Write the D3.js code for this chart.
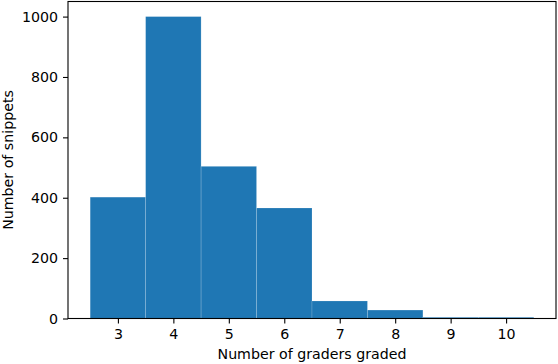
<!DOCTYPE html>
<html>
<head>
<meta charset="utf-8">
<script src="https://cdn.jsdelivr.net/npm/d3@7"></script>
<style>
	html, body { margin: 0; padding: 0; background: #fff; }
	svg { display: block; }
	text { font-family: "DejaVu Sans", sans-serif; fill: #000; }
</style>
</head>
<body>
<script>
// graders per snippet (bin centres) and snippet counts
const graders = [3, 4, 5, 6, 7, 8, 9, 10];
const counts = [402, 1000, 504, 366, 58, 28, 4, 4];
const xTicks = [3, 4, 5, 6, 7, 8, 9, 10];
const yTicks = [0, 200, 400, 600, 800, 1000];

const width = 558, height = 364;
const margin = { left: 68, right: 2, top: 1.5, bottom: 45.5 };

const svg = d3.select('body')
	.append('svg')
	.attr('width', width)
	.attr('height', height);

const x = d3.scaleLinear()
	.domain([2.1, 10.9])
	.range([margin.left, width - margin.right]);

const y = d3.scaleLinear()
	.domain([0, 1050])
	.range([height - margin.bottom, margin.top]);

// bars
svg.append('g')
	.selectAll('rect')
	.data(graders)
	.join('rect')
		.attr('x', (d) => x(d - 0.5))
		.attr('y', (d, i) => y(counts[i]))
		.attr('width', (d) => x(d + 0.5) - x(d - 0.5))
		.attr('height', (d, i) => y(0) - y(counts[i]))
		.attr('fill', '#1f77b4')
		.attr('stroke', 'rgba(255,255,255,0.2)')
		.attr('stroke-width', 0.8);

// axes
const xAxis = svg.append('g')
	.attr('transform', `translate(0,${y(0)})`)
	.call(d3.axisBottom(x).tickValues(xTicks).tickFormat(d3.format('d'))
		.tickSize(5).tickPadding(5).tickSizeOuter(0));

const yAxis = svg.append('g')
	.attr('transform', `translate(${margin.left},0)`)
	.call(d3.axisLeft(y).tickValues(yTicks).tickFormat(d3.format('d'))
		.tickSize(5).tickPadding(5).tickSizeOuter(0));

[xAxis, yAxis].forEach((g) => {
	g.select('.domain').remove();
	g.selectAll('line').attr('stroke', '#000').attr('stroke-width', 1.1);
	g.selectAll('text')
		.style('font-family', '"DejaVu Sans", sans-serif')
		.style('font-size', '14.2px')
		.attr('fill', '#000');
});

// frame
svg.append('rect')
	.attr('x', margin.left)
	.attr('y', margin.top)
	.attr('width', width - margin.left - margin.right)
	.attr('height', y(0) - margin.top)
	.attr('fill', 'none')
	.attr('stroke', '#000')
	.attr('stroke-width', 1.1);

// labels
svg.append('text')
	.attr('x', (margin.left + width - margin.right) / 2)
	.attr('y', 359)
	.attr('text-anchor', 'middle')
	.style('font-size', '14.2px')
	.text('Number of graders graded');

svg.append('text')
	.attr('transform', `translate(13,${(margin.top + y(0)) / 2}) rotate(-90)`)
	.attr('text-anchor', 'middle')
	.style('font-size', '14.2px')
	.text('Number of snippets');
</script>
</body>
</html>
